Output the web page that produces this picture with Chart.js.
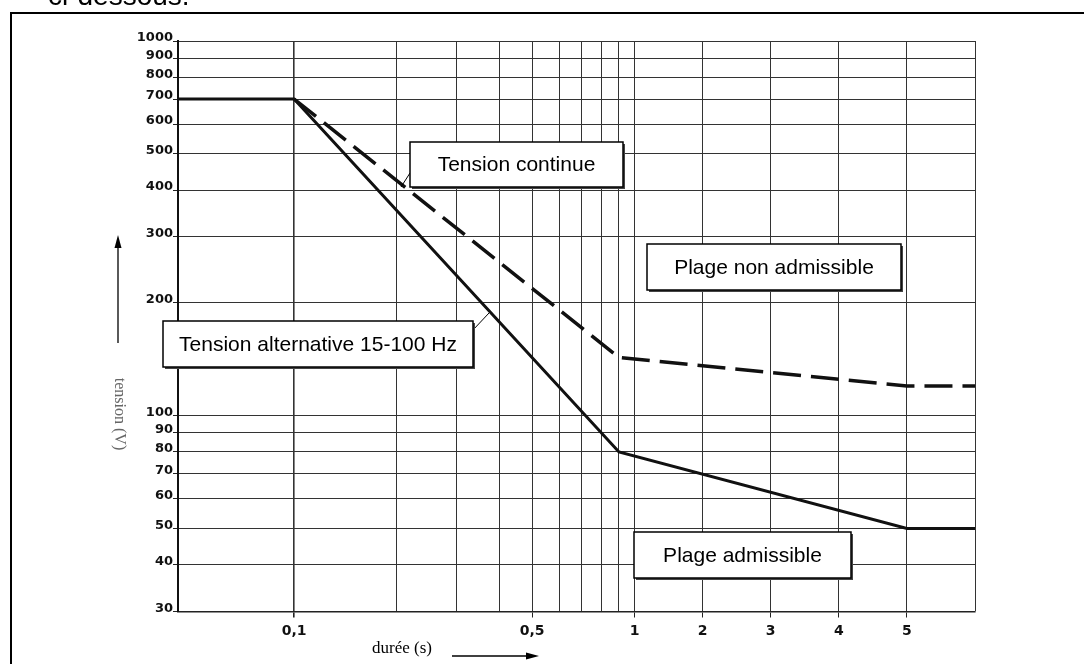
<!DOCTYPE html>
<html>
<head>
<meta charset="utf-8">
<script src="https://cdn.jsdelivr.net/npm/chart.js@4/dist/chart.umd.min.js"></script>
<style>
  body { margin: 0; background: #fff; }
</style>
</head>
<body>
<canvas id="tensionChart" width="1084" height="664"></canvas>
<script>
// Données
const xTicks = [0.1, 0.2, 0.3, 0.4, 0.5, 0.6, 0.7, 0.8, 0.9, 1, 2, 3, 4, 5, 6];
const xTickLabels = ['0,1', '', '', '', '0,5', '', '', '', '', '1', '2', '3', '4', '5', ''];
const yTicks = [30, 40, 50, 60, 70, 80, 90, 100, 200, 300, 400, 500, 600, 700, 800, 900, 1000];

// Tension alternative 15-100 Hz
const dureeAlt = [0.0456, 0.1, 0.9, 5, 6];
const tensionAlt = [700, 700, 80, 50, 50];

// Tension continue
const dureeCont = [0.1, 0.9, 5, 6];
const tensionCont = [700, 143, 120, 120];

// Echelle des durées : logarithmique jusqu'à 1 s, puis linéaire (1 s = 0,2 décade)
function toU(v) {
    return v <= 1 ? Math.log10(v) : (v - 1) * 0.2;
}
function fromU(u) {
    return u <= 0 ? Math.pow(10, u) : 1 + u / 0.2;
}

class DureeScale extends Chart.Scale {
    determineDataLimits() {
        this.min = this.options.min;
        this.max = this.options.max;
    }
    buildTicks() {
        return xTicks.map(v => ({ value: v }));
    }
    configure() {
        super.configure();
        this._uMin = toU(this.min);
        this._uMax = toU(this.max);
    }
    getPixelForValue(v) {
        return this.getPixelForDecimal((toU(v) - this._uMin) / (this._uMax - this._uMin));
    }
    getValueForPixel(p) {
        return fromU(this._uMin + this.getDecimalForPixel(p) * (this._uMax - this._uMin));
    }
    getLabelForValue(v) {
        return String(v).replace('.', ',');
    }
}
DureeScale.id = 'duree';
DureeScale.defaults = {};
Chart.register(DureeScale);

// Encadrés de texte
const encadres = [
    { text: 'Tension continue', x: 410, y: 142, w: 213, h: 45 },
    { text: 'Plage non admissible', x: 647, y: 244, w: 254, h: 46 },
    { text: 'Tension alternative 15-100 Hz', x: 163, y: 321, w: 310, h: 46 },
    { text: 'Plage admissible', x: 634, y: 532, w: 217, h: 46 }
];

function fleche(ctx, x1, y1, x2, y2) {
    const a = Math.atan2(y2 - y1, x2 - x1);
    ctx.beginPath();
    ctx.moveTo(x1, y1);
    ctx.lineTo(x2 - 12 * Math.cos(a), y2 - 12 * Math.sin(a));
    ctx.stroke();
    ctx.beginPath();
    ctx.moveTo(x2, y2);
    ctx.lineTo(x2 - 13 * Math.cos(a) + 3.5 * Math.sin(a), y2 - 13 * Math.sin(a) - 3.5 * Math.cos(a));
    ctx.lineTo(x2 - 13 * Math.cos(a) - 3.5 * Math.sin(a), y2 - 13 * Math.sin(a) + 3.5 * Math.cos(a));
    ctx.closePath();
    ctx.fill();
}

const notesPlugin = {
    id: 'notes',
    afterDraw(chart) {
        const ctx = chart.ctx;
        ctx.save();
        ctx.strokeStyle = '#000';
        ctx.fillStyle = '#000';

        // cadre de la page
        ctx.lineWidth = 2;
        ctx.beginPath();
        ctx.moveTo(11, 664);
        ctx.lineTo(11, 13);
        ctx.lineTo(1084, 13);
        ctx.stroke();

        // ligne de texte coupée en haut
        ctx.font = '28px "Liberation Sans", Arial, sans-serif';
        ctx.textBaseline = 'alphabetic';
        ctx.textAlign = 'left';
        ctx.fillText('ci-dessous.', 48, 5);

        // traits de rappel
        ctx.lineWidth = 1;
        ctx.beginPath();
        ctx.moveTo(410, 173);
        ctx.lineTo(401, 187);
        ctx.moveTo(473, 330);
        ctx.lineTo(489, 313);
        ctx.stroke();

        // encadrés
        ctx.font = '21px "Liberation Sans", Arial, sans-serif';
        ctx.textAlign = 'center';
        ctx.textBaseline = 'middle';
        encadres.forEach(b => {
            ctx.fillStyle = '#444';
            ctx.fillRect(b.x + 2, b.y + 2, b.w, b.h);
            ctx.fillStyle = '#fff';
            ctx.fillRect(b.x, b.y, b.w, b.h);
            ctx.lineWidth = 1.5;
            ctx.strokeStyle = '#000';
            ctx.strokeRect(b.x, b.y, b.w, b.h);
            ctx.fillStyle = '#000';
            ctx.fillText(b.text, b.x + b.w / 2, b.y + b.h / 2 + 1);
        });

        // titre de l'axe vertical
        ctx.save();
        ctx.translate(119, 414);
        ctx.rotate(Math.PI / 2);
        ctx.fillStyle = '#666';
        ctx.font = '16px "Liberation Serif", "Times New Roman", serif';
        ctx.fillText('tension (V)', 0, 0);
        ctx.restore();
        ctx.lineWidth = 1.3;
        fleche(ctx, 118, 343, 118, 235);

        // titre de l'axe horizontal
        ctx.textAlign = 'left';
        ctx.font = '17px "Liberation Serif", "Times New Roman", serif';
        ctx.fillText('durée (s)', 372, 649);
        fleche(ctx, 452, 656, 539, 656);

        ctx.restore();
    }
};

const ctx = document.getElementById('tensionChart').getContext('2d');

new Chart(ctx, {
    type: 'line',
    data: {
        datasets: [{
            label: 'Tension alternative 15-100 Hz',
            data: dureeAlt.map((d, i) => ({ x: d, y: tensionAlt[i] })),
            borderColor: '#111',
            borderWidth: 3,
            pointRadius: 0,
            tension: 0,
            fill: false
        }, {
            label: 'Tension continue',
            data: dureeCont.map((d, i) => ({ x: d, y: tensionCont[i] })),
            borderColor: '#111',
            borderWidth: 3.5,
            borderDash: [28, 10],
            pointRadius: 0,
            tension: 0,
            fill: false
        }]
    },
    options: {
        responsive: false,
        animation: false,
        events: [],
        layout: {
            padding: { left: 0, top: 41, right: 109, bottom: 0 }
        },
        plugins: {
            legend: { display: false },
            tooltip: { enabled: false }
        },
        scales: {
            x: {
                type: 'duree',
                min: 0.0456,
                max: 6,
                afterFit: s => { s.height = 52.5; },
                grid: {
                    color: '#333',
                    lineWidth: c => (c.tick && c.tick.value === 0.1 ? 1.6 : 1),
                    tickLength: 6,
                    tickColor: c => (c.index !== undefined && xTickLabels[c.index] ? '#222' : 'rgba(0,0,0,0)')
                },
                border: { display: true, color: '#222', width: 1.5 },
                ticks: {
                    autoSkip: false,
                    maxRotation: 0,
                    padding: 5,
                    color: '#111',
                    font: { family: 'DejaVu Sans', size: 14, weight: 'bold' },
                    callback: (v, i) => xTickLabels[i]
                }
            },
            y: {
                type: 'logarithmic',
                min: 30,
                max: 1000,
                afterFit: s => { s.width = 178; },
                afterBuildTicks: s => { s.ticks = yTicks.map(v => ({ value: v })); },
                grid: {
                    color: '#333',
                    lineWidth: 1,
                    tickLength: 5,
                    tickColor: '#222'
                },
                border: { display: true, color: '#111', width: 2 },
                ticks: {
                    autoSkip: false,
                    padding: 0,
                    labelOffset: -3,
                    color: '#111',
                    font: { family: 'DejaVu Sans', size: 13, weight: 'bold' },
                    callback: v => String(v)
                }
            }
        }
    },
    plugins: [notesPlugin]
});
</script>
</body>
</html>
